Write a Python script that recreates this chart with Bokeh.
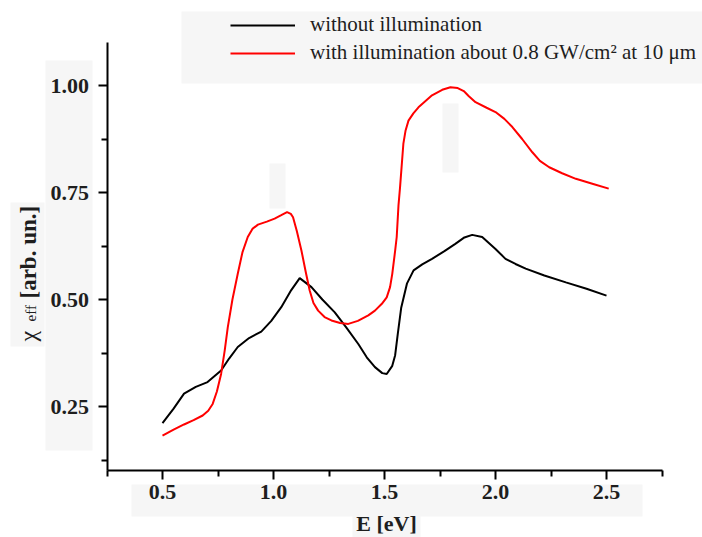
from math import pi

from bokeh.embed import file_html
from bokeh.models import (FixedTicker, Label, Legend, LegendItem, Range1d,
                          NumeralTickFormatter, BoxAnnotation)
from bokeh.plotting import figure
from bokeh.resources import INLINE

# ---- data ----
energy_dark = [0.50, 0.55, 0.597, 0.65, 0.703, 0.764, 0.80, 0.839, 0.89, 0.945,
               0.99, 1.035, 1.08, 1.118, 1.171, 1.22, 1.276, 1.33, 1.382, 1.42,
               1.457, 1.49, 1.51, 1.535, 1.548, 1.56, 1.575, 1.601, 1.631, 1.67,
               1.714, 1.77, 1.819, 1.86, 1.895, 1.94, 1.97, 2.00, 2.045, 2.09,
               2.136, 2.22, 2.317, 2.41, 2.50]
chi_dark = [0.211, 0.245, 0.280, 0.296, 0.307, 0.334, 0.362, 0.389, 0.410, 0.425,
            0.450, 0.482, 0.522, 0.550, 0.529, 0.500, 0.470, 0.433, 0.396, 0.365,
            0.342, 0.328, 0.326, 0.345, 0.370, 0.420, 0.480, 0.537, 0.568, 0.582,
            0.595, 0.613, 0.630, 0.645, 0.651, 0.646, 0.632, 0.618, 0.595, 0.583,
            0.572, 0.556, 0.540, 0.525, 0.509]

energy_light = [0.50, 0.55, 0.597, 0.64, 0.681, 0.706, 0.726, 0.745, 0.764, 0.78,
                0.794, 0.815, 0.839, 0.86, 0.884, 0.905, 0.93, 0.97, 1.005, 1.035,
                1.061, 1.078, 1.088, 1.105, 1.126, 1.145, 1.163, 1.18, 1.201, 1.23,
                1.261, 1.30, 1.337, 1.38, 1.427, 1.457, 1.488, 1.51, 1.525, 1.535,
                1.548, 1.555, 1.563, 1.57, 1.585, 1.595, 1.608, 1.63, 1.653, 1.714,
                1.76, 1.797, 1.83, 1.857, 1.88, 1.91, 1.96, 2.00, 2.04, 2.076,
                2.12, 2.166, 2.20, 2.242, 2.30, 2.362, 2.44, 2.51]
chi_light = [0.182, 0.196, 0.208, 0.218, 0.229, 0.240, 0.256, 0.285, 0.326, 0.380,
             0.435, 0.500, 0.560, 0.610, 0.646, 0.665, 0.675, 0.682, 0.689, 0.697,
             0.704, 0.700, 0.692, 0.660, 0.614, 0.565, 0.521, 0.492, 0.474, 0.459,
             0.451, 0.445, 0.443, 0.450, 0.463, 0.474, 0.490, 0.505, 0.529, 0.560,
             0.614, 0.646, 0.720, 0.762, 0.864, 0.895, 0.918, 0.935, 0.949, 0.977,
             0.990, 0.996, 0.994, 0.987, 0.975, 0.961, 0.948, 0.938, 0.922, 0.903,
             0.875, 0.844, 0.824, 0.809, 0.795, 0.782, 0.770, 0.759]

x_bounds = (0.25, 2.75)
y_bounds = (0.1, 1.1)
x_major_ticks = [0.5, 1.0, 1.5, 2.0, 2.5]
x_minor_ticks = [0.25, 0.75, 1.25, 1.75, 2.25, 2.75]
y_major_ticks = [0.25, 0.50, 0.75, 1.00]
y_minor_ticks = [0.125, 0.375, 0.625, 0.875]

series_names = ["without illumination",
                "with illumination about 0.8 GW/cm\u00b2 at 10 \u03bcm"]
x_title = "E [eV]"
y_title_symbol = "\u03c7"
y_title_sub = "eff"
y_title_unit = "[arb. un.]"

# ---- layout (pixels) ----
W, H = 702, 537
PX_PER_X, PX_PER_Y = 222.0, 428.0
X0_PX, Y0_PX = 106.5, 85.0          # pixel of x=0.25 and of y=1.00
x_lo = 0.25 - X0_PX / PX_PER_X
y_hi = 1.00 + Y0_PX / PX_PER_Y

SERIF = "Liberation Serif"
TXT = "#1e1e1e"
BAND = "#f6f6f6"

p = figure(width=W, height=H,
           x_range=Range1d(x_lo, x_lo + W / PX_PER_X),
           y_range=Range1d(y_hi - H / PX_PER_Y, y_hi),
           output_backend="svg", toolbar_location=None,
           min_border=0, min_border_left=0, min_border_right=0,
           min_border_top=0, min_border_bottom=0)
p.outline_line_color = None
p.xgrid.visible = False
p.ygrid.visible = False
p.background_fill_color = "white"
p.border_fill_color = "white"


def band(left, right, top, bottom):
    p.add_layout(BoxAnnotation(left=left, right=right, top=H - top, bottom=H - bottom,
                               left_units="screen", right_units="screen",
                               top_units="screen", bottom_units="screen",
                               fill_color=BAND, fill_alpha=1.0,
                               line_color=None, level="underlay"))


# faint grey scan bands of the reference
band(181, 702, 11, 83)      # legend block
band(45, 92, 60, 450)       # y tick labels
band(10, 44, 202, 346)      # y title
band(131, 642, 484, 516)    # x tick labels
band(352, 420, 514, 537)    # x title
band(269, 285, 163, 208)
band(442, 458, 103, 172)

xa = p.xaxis[0]
ya = p.yaxis[0]
xa.fixed_location = y_bounds[0]
ya.fixed_location = x_bounds[0]
xa.bounds = x_bounds
ya.bounds = y_bounds

for ax in (xa, ya):
    ax.axis_line_width = 2
    ax.axis_line_color = "black"
    ax.major_tick_line_width = 2
    ax.minor_tick_line_width = 2
    ax.major_tick_line_color = "black"
    ax.minor_tick_line_color = "black"
    ax.major_tick_out = 9
    ax.major_tick_in = 0
    ax.minor_tick_out = 6
    ax.minor_tick_in = 0
    ax.major_label_text_font = SERIF
    ax.major_label_text_font_style = "bold"
    ax.major_label_text_font_size = "22px"
    ax.major_label_text_color = TXT

xa.ticker = FixedTicker(ticks=x_major_ticks, minor_ticks=x_minor_ticks)
ya.ticker = FixedTicker(ticks=y_major_ticks, minor_ticks=y_minor_ticks)
xa.formatter = NumeralTickFormatter(format="0.0")
ya.formatter = NumeralTickFormatter(format="0.00")
xa.major_label_standoff = 5
ya.major_label_standoff = 9

r_dark = p.line(energy_dark, chi_dark, line_color="black", line_width=2)
r_light = p.line(energy_light, chi_light, line_color="#ff0000", line_width=2)

legend = Legend(items=[LegendItem(label=series_names[0], renderers=[r_dark]),
                       LegendItem(label=series_names[1], renderers=[r_light])],
                location=(230, H - 65), padding=5, spacing=3,
                glyph_width=65, glyph_height=22, label_height=22,
                label_standoff=15, label_text_font=SERIF,
                label_text_font_size="21px", label_text_color=TXT,
                background_fill_alpha=0, border_line_color=None)
p.add_layout(legend)

# y-axis title: chi with subscript eff, then the bold unit part
p.add_layout(Label(x=27, y=H - 341, x_units="screen", y_units="screen",
                   text=y_title_symbol, angle=pi / 2, text_font=SERIF,
                   text_font_size="24px", text_color=TXT,
                   text_align="left", text_baseline="alphabetic"))
p.add_layout(Label(x=30, y=H - 321, x_units="screen", y_units="screen",
                   text=y_title_sub, angle=pi / 2, text_font=SERIF,
                   text_font_size="15px", text_color=TXT,
                   text_align="left", text_baseline="alphabetic"))
p.add_layout(Label(x=28, y=H - 298, x_units="screen", y_units="screen",
                   text=y_title_unit, angle=pi / 2, text_font=SERIF,
                   text_font_style="bold", text_font_size="23px", text_color=TXT,
                   text_align="left", text_baseline="alphabetic"))
# x-axis title
p.add_layout(Label(x=386, y=2, x_units="screen", y_units="screen",
                   text=x_title, text_font=SERIF, text_font_style="bold",
                   text_font_size="22px", text_color=TXT,
                   text_align="center", text_baseline="bottom"))

open("out.html", "w").write(file_html(p, INLINE))
